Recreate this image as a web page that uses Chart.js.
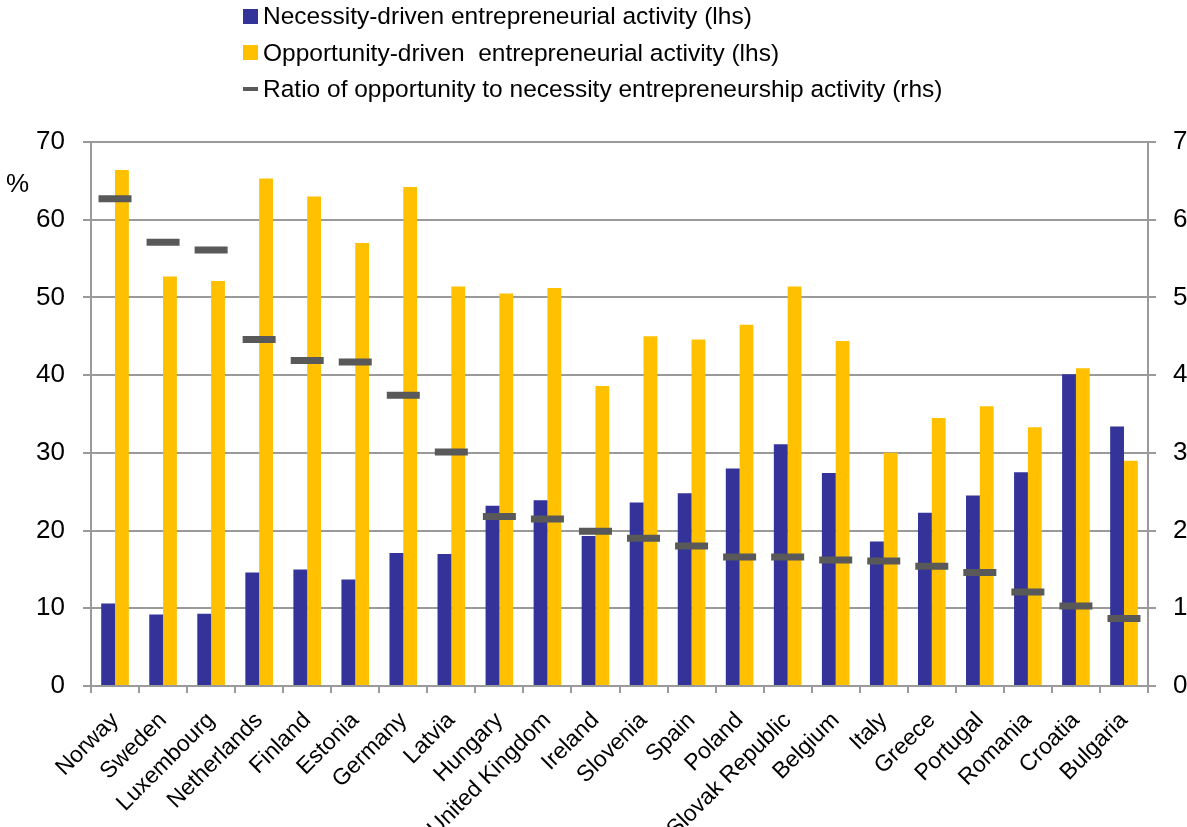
<!DOCTYPE html>
<html>
<head>
<meta charset="utf-8">
<script src="https://cdn.jsdelivr.net/npm/chart.js@4.4.1/dist/chart.umd.min.js"></script>
<style>
  html, body { margin: 0; padding: 0; background: #fff; }
  #wrap { position: relative; width: 1187px; height: 827px; overflow: hidden; }
  #chart { position: absolute; left: 0; top: 0; }
  .lg-row { position: absolute; left: 243px; height: 36px; line-height: 36px; white-space: pre;
            font-family: "Liberation Sans", Arial, sans-serif; font-size: 24.5px; color: #000; }
  .lg-box { position: absolute; left: 0; width: 15px; }
  .lg-text { position: absolute; left: 20px; top: 0; }
  #unit { position: absolute; left: 6px; top: 170px; font-family: "Liberation Sans", Arial, sans-serif;
          font-size: 26px; line-height: 26px; color: #000; }
</style>
</head>
<body>
<div id="wrap">
  <canvas id="chart" width="1187" height="827"></canvas>
  <div id="legend"></div>
  <div id="unit">%</div>
</div>
<script>
const countries = ['Norway', 'Sweden', 'Luxembourg', 'Netherlands', 'Finland', 'Estonia', 'Germany', 'Latvia',
  'Hungary', 'United Kingdom', 'Ireland', 'Slovenia', 'Spain', 'Poland', 'Slovak Republic', 'Belgium',
  'Italy', 'Greece', 'Portugal', 'Romania', 'Croatia', 'Bulgaria'];

const necessity = [10.6, 9.2, 9.3, 14.6, 15.0, 13.7, 17.1, 17.0, 23.2, 23.9, 19.3,
  23.6, 24.8, 28.0, 31.1, 27.4, 18.6, 22.3, 24.5, 27.5, 40.1, 33.4];
const opportunity = [66.4, 52.7, 52.1, 65.3, 63.0, 57.0, 64.2, 51.4, 50.5, 51.2, 38.6,
  45.0, 44.6, 46.5, 51.4, 44.4, 30.0, 34.5, 36.0, 33.3, 40.9, 29.0];
const ratio = [6.27, 5.71, 5.61, 4.46, 4.19, 4.17, 3.74, 3.01, 2.18, 2.15, 1.99,
  1.90, 1.80, 1.66, 1.66, 1.62, 1.61, 1.54, 1.46, 1.21, 1.03, 0.87];

const leftTicks = [0, 10, 20, 30, 40, 50, 60, 70];
const rightTicks = [0, 1, 2, 3, 4, 5, 6, 7];

const seriesLabels = ['Necessity-driven entrepreneurial activity (lhs)',
  'Opportunity-driven  entrepreneurial activity (lhs)',
  'Ratio of opportunity to necessity entrepreneurship activity (rhs)'];

const blue = '#333399';
const yellow = '#FFC000';
const dash = '#595959';
const gridGrey = '#9a9a9a';
const fontFamily = '"Liberation Sans", Arial, sans-serif';

// legend stacked like the original, built from the series labels
const legendEl = document.getElementById('legend');
const legendMarks = [
  { color: blue, h: 15 },
  { color: yellow, h: 15 },
  { color: dash, h: 4 }
];
seriesLabels.forEach((label, i) => {
  const row = document.createElement('div');
  row.className = 'lg-row';
  row.style.top = (-2 + i * 36.5) + 'px';
  const box = document.createElement('div');
  box.className = 'lg-box';
  box.style.background = legendMarks[i].color;
  box.style.height = legendMarks[i].h + 'px';
  box.style.top = (18 - legendMarks[i].h / 2) + 'px';
  const txt = document.createElement('span');
  txt.className = 'lg-text';
  txt.textContent = label;
  row.appendChild(box);
  row.appendChild(txt);
  legendEl.appendChild(row);
});

const data = {
  labels: countries,
  datasets: [
    {
      type: 'line',
      label: seriesLabels[2],
      data: ratio,
      yAxisID: 'y2',
      showLine: false,
      pointStyle: 'line',
      pointRadius: 16.5,
      pointHoverRadius: 16.5,
      pointBorderWidth: 7,
      pointHoverBorderWidth: 7,
      borderColor: dash,
      backgroundColor: dash,
      order: 0
    },
    {
      type: 'bar',
      label: seriesLabels[0],
      data: necessity,
      yAxisID: 'y',
      backgroundColor: blue,
      categoryPercentage: 0.575,
      barPercentage: 1.0,
      order: 1
    },
    {
      type: 'bar',
      label: seriesLabels[1],
      data: opportunity,
      yAxisID: 'y',
      backgroundColor: yellow,
      categoryPercentage: 0.575,
      barPercentage: 1.0,
      order: 1
    }
  ]
};

const config = {
  type: 'bar',
  data: data,
  options: {
    responsive: false,
    animation: false,
    devicePixelRatio: 1,
    layout: { padding: { top: 142, left: 0, right: 0, bottom: 0 } },
    plugins: {
      legend: { display: false },
      tooltip: { enabled: false }
    },
    scales: {
      x: {
        offset: true,
        grid: {
          offset: true,
          drawOnChartArea: false,
          drawTicks: true,
          tickLength: 7,
          color: gridGrey,
          lineWidth: 2
        },
        border: { display: true, color: gridGrey, width: 2 },
        ticks: {
          color: '#000',
          font: { family: fontFamily, size: 23 },
          minRotation: 45,
          maxRotation: 45,
          autoSkip: false,
          padding: 14
        },
        afterFit: (axis) => { axis.height = 141; }
      },
      y: {
        position: 'left',
        min: 0,
        max: 70,
        afterBuildTicks: (axis) => { axis.ticks = leftTicks.map(v => ({ value: v })); },
        grid: { color: gridGrey, lineWidth: 2, tickLength: 8, drawTicks: true },
        border: { display: true, color: gridGrey, width: 2 },
        ticks: { color: '#000', font: { family: fontFamily, size: 26 }, padding: 18 },
        afterFit: (axis) => { axis.width = 91; }
      },
      y2: {
        position: 'right',
        min: 0,
        max: 7,
        afterBuildTicks: (axis) => { axis.ticks = rightTicks.map(v => ({ value: v })); },
        grid: { drawOnChartArea: false, color: gridGrey, lineWidth: 2, tickLength: 8, drawTicks: true },
        border: { display: true, color: gridGrey, width: 2 },
        ticks: { color: '#000', font: { family: fontFamily, size: 26 }, padding: 17 },
        afterFit: (axis) => { axis.width = 39; }
      }
    }
  }
};

new Chart(document.getElementById('chart'), config);
</script>
</body>
</html>
